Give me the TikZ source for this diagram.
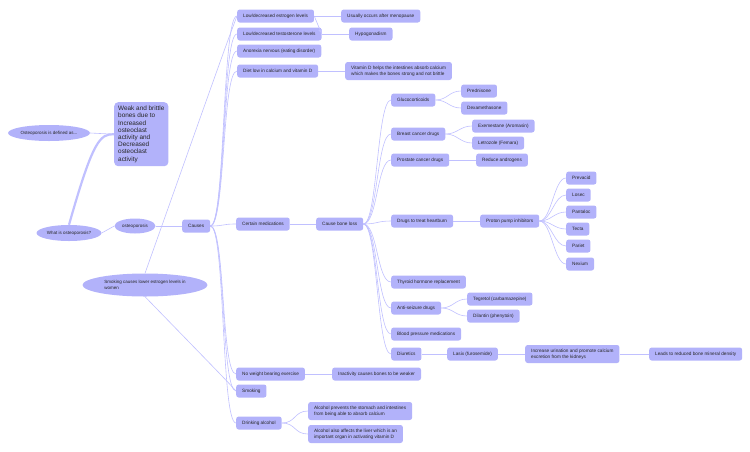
\documentclass[tikz,border=0pt]{standalone}
\usepackage{fontspec}
\setmainfont{Liberation Sans}
\usetikzlibrary{shapes.geometric}
\tikzset{>=latex}
\definecolor{nodefill}{RGB}{178,178,250}
\definecolor{linkcol}{RGB}{192,192,255}
\tikzset{
	box/.style={fill=nodefill, rounded corners=2.5pt, inner xsep=6pt, inner ysep=0pt, minimum height=13pt, anchor=west, align=left, text=black!85, font=\fontsize{4.7}{5.6}\selectfont},
	tallbox/.style={box, minimum height=18pt},
	oval/.style={ellipse, fill=nodefill, inner sep=0pt, text=black!85, font=\fontsize{4.5}{5.4}\selectfont},
	link/.style={draw=linkcol, line width=0.6pt},
	fan/.style={to path={.. controls +(#1,0) and +(-#1,0) .. (\tikztotarget)}},
	fan/.default=12
}
\begin{document}
\begin{tikzpicture}[x=1pt,y=-1pt]
	\useasboundingbox (0,0) rectangle (750,451);
	% left part
	\node [oval, minimum width=82pt, minimum height=16pt] (defined) at (49,133) {Osteoporosis is defined as...};
	\node [box, anchor=north west, minimum height=64pt, inner xsep=4pt, rounded corners=4pt, font=\fontsize{6.4}{7.2}\selectfont] (weak) at (114,102) {Weak and brittle\\bones due to\\Increased\\osteoclast\\activity and\\Decreased\\osteoclast\\activity};
	\node [oval, minimum width=65pt, minimum height=16pt] (what) at (69,233) {What is osteoporosis?};
	\node [oval, minimum width=41pt, minimum height=15pt] (osteo) at (135,226) {osteoporosis};
	\node [oval, minimum width=125pt, minimum height=23pt, align=left] (smoke) at (145,285) {Smoking causes lower estrogen levels in\\women};
	\node [box] (causes) at (182,226) {Causes};
	% causes
	\node [box] (estr) at (237,16) {Low/decreased estrogen levels};
	\node [box] (testo) at (237,34) {Low/decreased testosterone levels};
	\node [box] (anorexia) at (237,51) {Anorexia nervous (eating disorder)};
	\node [box] (diet) at (237,71) {Diet low in calcium and vitamin D};
	\node [box] (meds) at (236,224) {Certain medications};
	\node [box] (exercise) at (236,374) {No weight bearing exercise};
	\node [box] (smoking) at (236,391) {Smoking};
	\node [box] (alcohol) at (236,423) {Drinking alcohol};
	\node [box] (menopause) at (341,16) {Usually occurs after menopause};
	\node [box] (hypo) at (349,34) {Hypogonadism};
	\node [tallbox] (vitd) at (345,71) {Vitamin D helps the intestines absorb calcium\\which makes the bones strong and not brittle};
	\node [box] (inactive) at (332,374) {Inactivity causes bones to be weaker};
	\node [tallbox] (absorb) at (308,411) {Alcohol prevents the stomach and intestines\\from being able to absorb calcium};
	\node [tallbox] (liver) at (308,434) {Alcohol also affects the liver which is an\\important organ in activating vitamin D};
	% medications
	\node [box] (loss) at (316,224) {Cause bone loss};
	\node [box] (gluco) at (391,100) {Glucocorticoids};
	\node [box] (breast) at (391,134) {Breast cancer drugs};
	\node [box] (prostate) at (391,160) {Prostate cancer drugs};
	\node [box] (heartburn) at (391,221) {Drugs to treat heartburn};
	\node [box] (thyroid) at (391,282) {Thyroid hormone replacement};
	\node [box] (seizure) at (391,308) {Anti-seizure drugs};
	\node [box] (pressure) at (391,334) {Blood pressure medications};
	\node [box] (diuretic) at (391,354) {Diuretics};
	\node [box] (pred) at (461,91) {Prednisone};
	\node [box] (dexa) at (461,108) {Dexamethasone};
	\node [box] (exem) at (472,126) {Exemestane (Aromasin)};
	\node [box] (letro) at (472,143) {Letrozole (Femara)};
	\node [box] (andro) at (476,160) {Reduce androgens};
	\node [box] (ppi) at (480,221) {Proton pump inhibitors};
	\node [box] (prevacid) at (566,178) {Prevacid};
	\node [box] (losec) at (566,195) {Losec};
	\node [box] (pantaloc) at (566,212) {Pantaloc};
	\node [box] (tecta) at (566,229) {Tecta};
	\node [box] (pariet) at (566,246) {Pariet};
	\node [box] (nexium) at (566,264) {Nexium};
	\node [box] (tegretol) at (467,299) {Tegretol (carbamazepine)};
	\node [box] (dilantin) at (467,316) {Dilantin (phenytoin)};
	\node [box] (lasix) at (447,354) {Lasix (furosemide)};
	\node [tallbox] (urine) at (525,354) {Increase urination and promote calcium\\excretion from the kidneys};
	\node [box] (density) at (649,354) {Leads to reduced bone mineral density};
	% links
	\draw [link] (defined.east) -- (weak.west);
	\draw [link, line width=2.2pt] (what.north) .. controls (93,140) and (100,134) .. (weak.west);
	\draw [link] (what.east) -- (osteo.west);
	\draw [link] (osteo.east) -- (causes.west);
	\foreach \n in {estr,testo,anorexia,diet,meds,exercise,smoking,alcohol}
		\draw [link] (causes.east) to [fan=15] (\n.west);
	\draw [link] (smoke.north) .. controls (226,45) .. (estr.west);
	\draw [link] (smoke.south) .. controls (226,380) .. (smoking.west);
	\draw [link] (estr.east) -- (menopause.west);
	\draw [link] (hypo.west) -- (testo.east);
	\draw [link, ->] (estr.east) -- (testo.east);
	\draw [link] (diet.east) -- (vitd.west);
	\draw [link] (exercise.east) -- (inactive.west);
	\draw [link] (alcohol.east) to [fan=14] (absorb.west);
	\draw [link] (alcohol.east) to [fan=14] (liver.west);
	\draw [link] (meds.east) -- (loss.west);
	\foreach \n in {gluco,breast,prostate,heartburn,thyroid,seizure,pressure,diuretic}
		\draw [link] (loss.east) to [fan=14] (\n.west);
	\draw [link] (gluco.east) to [fan=12] (pred.west);
	\draw [link] (gluco.east) to [fan=12] (dexa.west);
	\draw [link] (breast.east) to [fan=12] (exem.west);
	\draw [link] (breast.east) to [fan=12] (letro.west);
	\draw [link] (prostate.east) -- (andro.west);
	\draw [link] (heartburn.east) -- (ppi.west);
	\foreach \n in {prevacid,losec,pantaloc,tecta,pariet,nexium}
		\draw [link] (ppi.east) to [fan=12] (\n.west);
	\draw [link] (seizure.east) to [fan=12] (tegretol.west);
	\draw [link] (seizure.east) to [fan=12] (dilantin.west);
	\draw [link] (diuretic.east) -- (lasix.west);
	\draw [link] (lasix.east) -- (urine.west);
	\draw [link] (urine.east) -- (density.west);
\end{tikzpicture}
\end{document}
